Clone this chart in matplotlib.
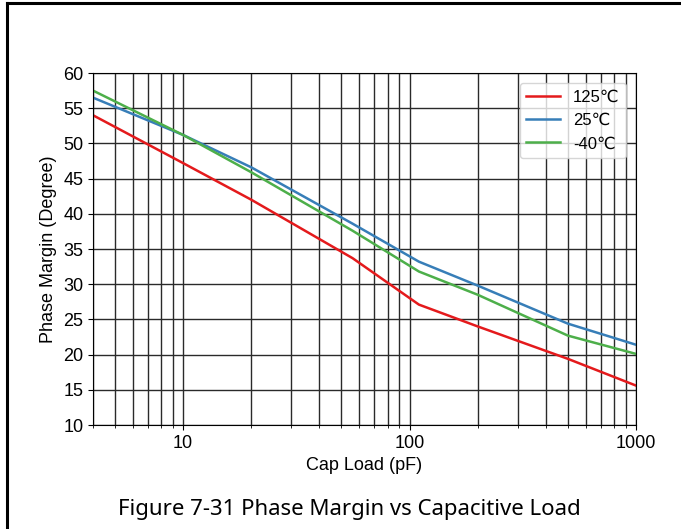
import numpy as np
import matplotlib.pyplot as plt
from matplotlib.lines import Line2D
from matplotlib.ticker import LogLocator, NullFormatter

# cap load (pF) and phase margin (degree)
cap_load = [4, 10, 20, 56, 110, 200, 500, 1000]
pm_125 = [54.0, 47.2, 42.0, 33.7, 27.1, 24.0, 19.4, 15.6]
pm_25 = [56.5, 51.2, 46.6, 38.6, 33.2, 29.8, 24.4, 21.4]
pm_m40 = [57.5, 51.2, 45.9, 37.6, 31.8, 28.5, 22.7, 20.1]
labels = ['125\u2103', '25\u2103', '-40\u2103']
colors = ['#e41a1c', '#377eb8', '#4daf4a']

plt.rcParams['font.family'] = ['Liberation Sans', 'DejaVu Sans']

fig = plt.figure(figsize=(6.81, 5.29), dpi=100)
ax = fig.add_axes([93 / 681, 1 - 425 / 529, (636 - 93) / 681, (425 - 73) / 529])

for ys, lab, c in zip([pm_125, pm_25, pm_m40], labels, colors):
    ax.plot(cap_load, ys, color=c, lw=1.8, label=lab)

ax.set_xscale('log')
ax.set_xlim(4, 1000)
ax.set_ylim(10, 60)
ax.set_yticks(np.arange(10, 61, 5))
ax.xaxis.set_minor_locator(LogLocator(base=10, subs=np.arange(2, 10)))
ax.xaxis.set_minor_formatter(NullFormatter())
ax.grid(True, which='major', color='#2a2a2a', lw=1)
ax.grid(True, which='minor', axis='x', color='#2a2a2a', lw=1)
ax.tick_params(labelsize=13)
ax.set_xticks([10, 100, 1000])
ax.set_xticklabels(['10', '100', '1000'])
ax.set_xlabel('Cap Load (pF)', fontsize=13)
ax.set_ylabel('Phase Margin (Degree)', fontsize=13)

ax.legend(loc='upper right', framealpha=0.8, borderaxespad=0.6,
          prop={'family': ['Liberation Sans', 'DejaVu Sans'], 'size': 12})

fig.text(349 / 681, 1 - 510 / 529, 'Figure 7-31 Phase Margin vs Capacitive Load',
         ha='center', va='center', fontsize=16, family='Noto Sans')

# frame of the screenshot (top and left edges only)
fig.add_artist(Line2D([7 / 681, 1], [1 - 3 / 529, 1 - 3 / 529], color='black', lw=2.2,
                      transform=fig.transFigure))
fig.add_artist(Line2D([7 / 681, 7 / 681], [0, 1 - 3 / 529], color='black', lw=2.2,
                      transform=fig.transFigure))

plt.savefig('out.png', dpi=100)
